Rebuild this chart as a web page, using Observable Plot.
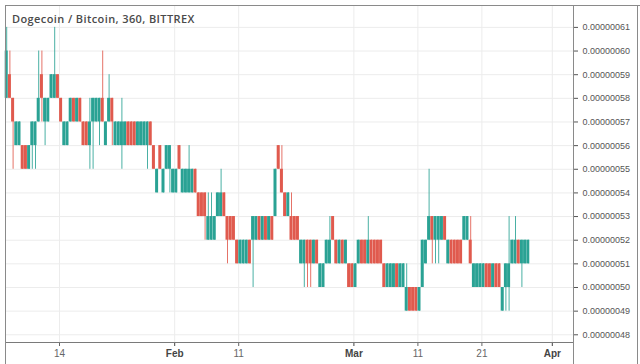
<!DOCTYPE html>
<html><head><meta charset="utf-8">
<script src="https://cdn.jsdelivr.net/npm/d3@7"></script>
<script src="https://cdn.jsdelivr.net/npm/@observablehq/plot@0.6"></script>
<style>
body{margin:0;background:#fff;}
#wrap{position:relative;width:640px;height:364px;overflow:hidden;}
#title{position:absolute;left:12px;top:11px;font:600 11px "Open Sans",sans-serif;letter-spacing:0.4px;color:#4a4a4a;white-space:nowrap;}
.ln{position:absolute;background:#8a8a8a;}
</style></head><body>
<div id="wrap"><div id="chart"></div>
<div id="title">Dogecoin / Bitcoin, 360, BITTREX</div>
<div class="ln" style="left:5px;top:5px;width:635px;height:1px"></div>
<div class="ln" style="left:5px;top:5px;width:1px;height:359px"></div>
<div class="ln" style="left:573px;top:5px;width:1px;height:359px"></div>
<div class="ln" style="left:637px;top:5px;width:1px;height:359px"></div>
</div>
<script>
// candle series (values in satoshi, 1e-8 BTC), one candle every 12h from start
const start = Date.UTC(2019, 0, 5, 12);
const stepHours = 12;
const open = [
58,59,58,56,56,56,56,55,56,56,
57,59,57,57,58,58,59,58,56,56,
57,58,57,58,57,57,56,57,57,57,
58,56,57,58,56,56,56,56,57,57,
57,56,56,56,56,57,56,54,56,54,
55,55,54,54,56,54,54,54,54,55,
54,54,54,52,52,52,53,53,54,53,
53,53,52,51,51,51,52,52,52,53,
52,53,52,53,53,56,55,54,53,53,
53,53,51,51,52,52,51,52,50,50,
51,51,53,52,51,52,51,51,51,50,
51,52,52,51,52,52,52,52,51,50,
50,50,51,50,50,49,50,50,50,49,
50,51,52,53,52,52,52,53,51,52,
52,52,52,52,52,52,50,50,50,50,
51,51,50,51,51,49,50,50,51,51,
52,51,51,51];
const close = [
60,58,57,57,57,55,55,56,57,57,
58,58,58,58,59,59,58,57,57,57,
58,57,58,57,56,56,57,58,58,58,
57,57,58,57,57,57,57,57,56,56,
56,57,57,57,57,56,55,55,55,55,
56,56,55,55,55,55,55,55,55,54,
53,53,53,53,53,53,54,54,53,52,
52,52,51,52,52,52,51,53,53,52,
53,52,53,52,55,55,54,53,54,52,
52,52,52,52,51,51,52,51,51,51,
52,52,52,51,52,51,52,50,50,51,
52,51,51,52,51,51,51,51,50,51,
51,51,50,51,51,50,49,49,49,50,
52,52,53,52,53,53,53,52,52,51,
51,51,51,53,53,51,51,51,51,51,
50,50,51,50,50,50,51,51,52,52,
51,52,52,52];
const high = [
61,60,58,57,57,56,56,56,57,57,
60,60,58,58,59,61,59,58,57,57,
58,58,58,58,57,57,58,58,58,58,
60,57,59,58,57,57,58,57,57,57,
57,57,57,57,57,57,56,55,56,55,
56,56,55,55,56,55,55,56,55,55,
54,54,54,54,54,53,54,55,54,53,
53,53,52,52,52,52,52,53,53,53,
53,53,53,53,55,56,56,54,54,54,
53,53,52,52,52,52,52,52,51,51,
52,53,53,52,52,52,52,51,51,51,
52,52,52,53,52,52,52,52,51,51,
51,51,51,51,51,51,50,50,50,50,
52,52,55,53,53,53,53,53,52,52,
52,52,52,53,53,53,51,51,51,51,
51,51,51,51,51,50,51,53,52,53,
52,52,52,52];
const low = [
58,58,55,56,56,55,55,55,55,55,
57,57,56,57,58,58,58,57,56,56,
57,57,57,57,56,56,55,55,57,56,
57,56,57,56,56,56,55,56,56,56,
56,56,56,56,55,56,55,54,55,54,
55,54,54,54,55,54,54,54,54,54,
53,53,52,52,52,52,53,53,53,51,
52,52,51,51,51,51,51,50,52,52,
52,52,52,52,53,55,54,53,53,52,
52,52,51,50,50,50,51,51,50,50,
51,51,52,51,51,51,51,50,50,50,
51,51,51,51,51,51,51,51,50,50,
50,50,50,50,50,49,49,49,49,49,
50,51,52,51,51,51,52,52,51,51,
51,51,51,52,52,51,50,50,50,50,
50,50,50,50,50,49,49,49,51,51,
51,50,51,51];
const yTicks = [48,49,50,51,52,53,54,55,56,57,58,59,60,61];
const xTickDates = ["2019-01-14","2019-02-01","2019-02-11","2019-03-01","2019-03-11","2019-03-21","2019-04-01"];
const xTickLabels = ["14","Feb","11","Mar","11","21","Apr"];
const monthTicks = ["Feb","Mar","Apr"];

const H = 3600e3;
const candles = open.map((o, i) => {
  const t = start + i * stepHours * H;
  return {t1: new Date(t), t2: new Date(t + stepHours * H), mid: new Date(t + stepHours * H / 2),
          open: o, close: close[i], high: high[i], low: low[i], dir: close[i] >= o ? "up" : "down"};
});
const ticks = xTickDates.map(s => new Date(s + "T00:00Z"));
const labelOf = new Map(ticks.map((d, i) => [+d, xTickLabels[i]]));
const dayT = ticks.filter((d, i) => !monthTicks.includes(xTickLabels[i]));
const monT = ticks.filter((d, i) => monthTicks.includes(xTickLabels[i]));

const chart = Plot.plot({
  width: 640, height: 364,
  marginTop: 5, marginRight: 67, marginBottom: 22, marginLeft: 5,
  style: {fontFamily: "Arial, 'Liberation Sans', sans-serif", background: "#fff"},
  x: {type: "utc", domain: [new Date(Date.UTC(2019,0,5,13,30)), new Date(Date.UTC(2019,3,4,7,30))]},
  y: {domain: [47.674, 61.926]},
  color: {domain: ["up","down"], range: ["#2aa294", "#e05a4e"]},
  marks: [
    Plot.gridY(yTicks, {stroke: "#ececec", strokeOpacity: 1}),
    Plot.gridX(ticks, {stroke: "#ececec", strokeOpacity: 1}),
    Plot.ruleX(candles, {x: "mid", y1: "low", y2: "high", stroke: "dir", strokeWidth: 1, strokeOpacity: 0.85}),
    Plot.rect(candles, {x1: "t1", x2: "t2", y1: "open", y2: "close", fill: "dir", insetLeft: 0.1, insetRight: 0.1}),
    Plot.axisY(yTicks, {anchor: "right", label: null, tickSize: 4, tickPadding: 5, fontSize: 9, color: "#555",
      tickFormat: d => (d / 1e8).toFixed(8)}),
    Plot.axisX(dayT, {label: null, tickSize: 4, tickPadding: 3, fontSize: 10, color: "#666",
      tickFormat: d => labelOf.get(+d)}),
    Plot.axisX(monT, {label: null, tickSize: 4, tickPadding: 3, fontSize: 10, color: "#444", fontWeight: "bold",
      tickFormat: d => labelOf.get(+d)}),
    Plot.frame({stroke: "#7a7a7a"})
  ]
});
document.getElementById("chart").appendChild(chart);
</script>
</body></html>
